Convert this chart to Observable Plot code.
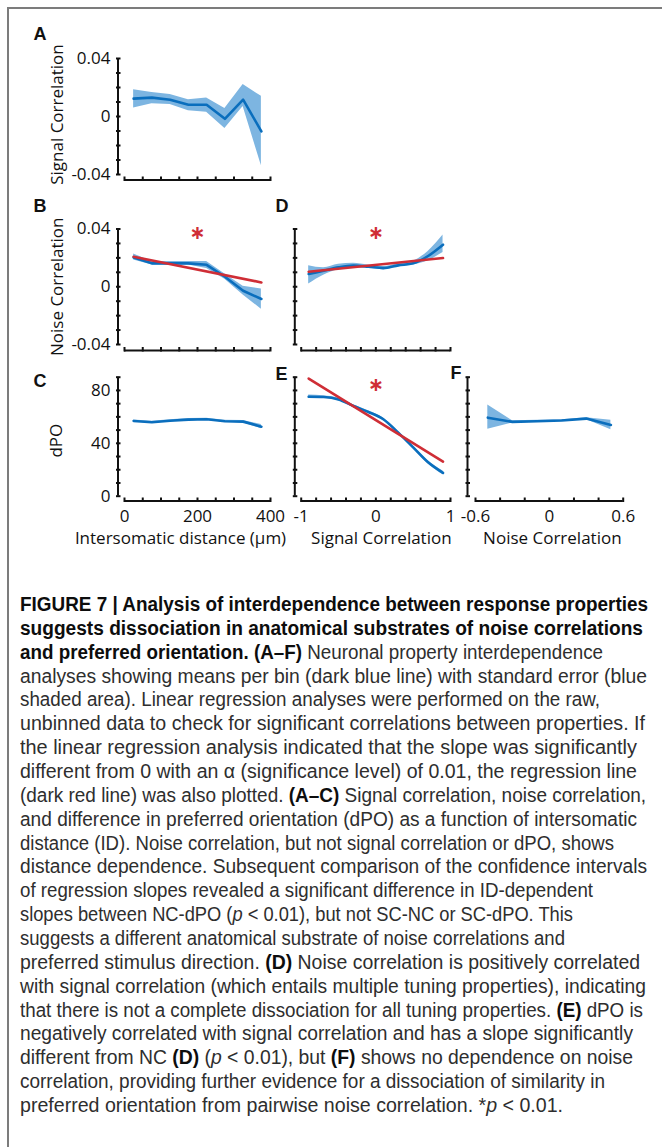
<!DOCTYPE html>
<html><head><meta charset="utf-8">
<script src="https://cdn.jsdelivr.net/npm/d3@7"></script>
<script src="https://cdn.jsdelivr.net/npm/@observablehq/plot@0.6"></script>
<style>
html,body{margin:0;padding:0;background:#fff;}
#page{position:relative;width:662px;height:1147px;overflow:hidden;background:#fff;}
#frame{position:absolute;left:7px;top:7px;width:720px;height:1200px;border-top:2px solid #7c7c7c;border-left:2px solid #7c7c7c;}
.panel{position:absolute;}
#caption{position:absolute;left:20px;top:593px;font-family:"Liberation Sans",Arial,sans-serif;font-size:19.5px;line-height:23.86px;color:#2e2e2e;}
.ln{white-space:nowrap;transform-origin:0 50%;width:max-content;}
.ln b{color:#0d0d0d;}
</style></head>
<body><div id="page"><div id="frame"></div><div id="caption"></div></div>
<script>
// ---------- data ----------
const distBins = [25, 75, 125, 175, 225, 275, 325, 375];
const scMean = [0.0123, 0.0130, 0.0116, 0.0081, 0.0081, -0.0016, 0.0116, -0.0102];
const scLo   = [0.0058, 0.0088, 0.0083, 0.0040, 0.0030, -0.0083, 0.0069, -0.0340];
const scHi   = [0.0185, 0.0166, 0.0152, 0.0116, 0.0127, 0.0055, 0.0220, 0.0139];

const ncMean = [0.0203, 0.0162, 0.0162, 0.0162, 0.0152, 0.0069, -0.0028, -0.0085];
const ncLo   = [0.0185, 0.0150, 0.0150, 0.0150, 0.0127, 0.0052, -0.0058, -0.0155];
const ncHi   = [0.0227, 0.0175, 0.0175, 0.0175, 0.0175, 0.0088, 0.0003, -0.0016];

const dpoMean = [56.9, 55.9, 57.1, 57.9, 58.2, 56.7, 56.4, 52.6];
const dpoLo   = [56.1, 55.1, 56.3, 57.1, 57.4, 55.9, 55.6, 51.0];
const dpoHi   = [57.7, 56.7, 57.9, 58.7, 59.0, 57.5, 57.2, 54.2];

const scBins = [-0.9, -0.7, -0.5, -0.3, -0.1, 0.1, 0.3, 0.5, 0.7, 0.9];
const ncBySc   = [0.0088, 0.0111, 0.0134, 0.0146, 0.0139, 0.0129, 0.0148, 0.0162, 0.0213, 0.0291];
const ncByScLo = [0.0019, 0.0080, 0.0120, 0.0136, 0.0130, 0.0118, 0.0138, 0.0150, 0.0180, 0.0238];
const ncByScHi = [0.0146, 0.0132, 0.0155, 0.0162, 0.0150, 0.0140, 0.0160, 0.0178, 0.0245, 0.0358];

const dpoBySc   = [75.2, 75.0, 73.2, 68.2, 63.7, 58.2, 48.1, 36.9, 25.6, 17.6];
const dpoByScLo = [73.8, 74.0, 72.2, 67.2, 62.7, 57.2, 47.1, 35.9, 24.4, 16.2];
const dpoByScHi = [76.6, 76.0, 74.2, 69.2, 64.7, 59.2, 49.1, 37.9, 26.8, 19.0];

const ncBins = [-0.5, -0.3, -0.1, 0.1, 0.3, 0.5];
const dpoByNc   = [59.4, 56.2, 56.7, 57.2, 58.7, 53.9];
const dpoByNcLo = [50.7, 55.4, 56.0, 56.5, 58.0, 50.3];
const dpoByNcHi = [68.9, 57.0, 57.4, 57.9, 59.4, 57.5];

// regression lines (endpoints)
const regDistX = [25, 375];
const regNcDist = [0.0208, 0.0030];
const regScX = [-0.9, 0.9];
const regNcSc = [0.0104, 0.0199];
const regDpoSc = [89.0, 26.1];

// significance stars
const starB = {x: [200], y: [0.037]};
const starD = {x: [0], y: [0.037]};
const starE = {x: [0], y: [84.5]};

// ticks
const distTicks = [0, 50, 100, 150, 200, 250, 300, 350, 400];
const distLabels = [0, 200, 400];
const scTicks = [-1, -0.8, -0.6, -0.4, -0.2, 0, 0.2, 0.4, 0.6, 0.8, 1];
const scLabels = [-1, 0, 1];
const ncTicks = [-0.6, -0.4, -0.2, 0, 0.2, 0.4, 0.6];
const ncLabels = [-0.6, 0, 0.6];
const corrTicks = [-0.04, -0.03, -0.02, -0.01, 0, 0.01, 0.02, 0.03, 0.04];
const corrLabels = [-0.04, 0, 0.04];
const dpoTicks = [0, 10, 20, 30, 40, 50, 60, 70, 80, 90];
const dpoLabels = [0, 40, 80];

// ---------- drawing ----------
const blue = "#0a6ebd", bandFill = "#7db5e1", red = "#cf2e36", ink = "#111";
const tickFont = "'Open Sans', 'Noto Sans', sans-serif";

function fmt(labels) {
  return d => labels.some(l => Math.abs(l - d) < 1e-9) ? String(+d.toFixed(2)) : "";
}

function panel(o) {
  const [bl, bt, bw, bh] = o.box;
  const [fx0, fx1, fy0, fy1] = o.frame;
  const curve = o.curve || "linear";
  const marks = [
    Plot.areaY(o.x, {x: o.x, y1: o.lo, y2: o.hi, fill: bandFill, curve}),
    Plot.line(o.x, {x: o.x, y: o.mean, stroke: blue, strokeWidth: 2.6, curve})
  ];
  if (o.regX) marks.push(Plot.line(o.regX, {x: o.regX, y: o.regY, stroke: red, strokeWidth: 2.6}));
  if (o.star) marks.push(Plot.text(o.star.x, {x: o.star.x, y: o.star.y, text: () => "\u2217", fill: red, fontSize: 19, fontFamily: "DejaVu Sans", fontWeight: "bold"}));
  // axis lines
  marks.push(Plot.ruleX([o.xDomain[0]], {y1: o.yDomain[0], y2: o.yDomain[1], dx: o.yAxisDx, stroke: ink, strokeWidth: 2}));
  marks.push(Plot.ruleY([o.yDomain[0]], {x1: o.xDomain[0], x2: o.xDomain[1], dy: o.xAxisDy, stroke: ink, strokeWidth: 2}));
  // ticks + labels
  marks.push(Plot.axisY(o.yTicks, {anchor: "left", tickSize: 4.5, dx: o.yAxisDx + 3, tickPadding: 6, tickFormat: fmt(o.yLabels), label: null, stroke: ink, strokeWidth: 2, fontSize: 17, fontFamily: tickFont, fill: ink}));
  marks.push(Plot.axisX(o.xTicks, {anchor: "bottom", tickSize: 4.5, dy: o.xAxisDy - 3, tickPadding: 7.5, tickFormat: fmt(o.xLabels), label: null, stroke: ink, strokeWidth: 2, fontSize: 17, fontFamily: tickFont, fill: ink}));
  // panel letter
  marks.push(Plot.text([o.letter], {frameAnchor: "top-left", dx: o.letterPos[0] - fx0, dy: o.letterPos[1] - fy0, textAnchor: "start", lineAnchor: "bottom", fontWeight: "bold", fontSize: 18, fontFamily: "'Liberation Sans', Arial, sans-serif", fill: ink}));
  if (o.yTitle) marks.push(Plot.text([o.yTitle], {frameAnchor: "left", dx: o.yTitlePos[0] - fx0, dy: o.yTitlePos[1], rotate: -90, textAnchor: "middle", lineAnchor: "middle", fontSize: 17, fontFamily: tickFont, fill: ink}));
  if (o.xTitle) marks.push(Plot.text([o.xTitle], {frameAnchor: "bottom", dx: o.xTitlePos[0], dy: o.xTitlePos[1] - fy1, textAnchor: "middle", lineAnchor: "middle", fontSize: 17, fontFamily: tickFont, fill: ink}));

  const svg = Plot.plot({
    width: bw, height: bh,
    marginLeft: fx0 - bl, marginRight: bl + bw - fx1,
    marginTop: fy0 - bt, marginBottom: bt + bh - fy1,
    x: {domain: o.xDomain},
    y: {domain: o.yDomain},
    style: {background: "none", overflow: "visible", fontFamily: tickFont, fontSize: "17px", color: ink},
    marks
  });
  svg.classList.add("panel");
  svg.style.left = bl + "px";
  svg.style.top = bt + "px";
  svg.style.position = "absolute";
  document.getElementById("page").appendChild(svg);
}

const corrDomain = [-0.04, 0.04], dpoDomain = [0, 90];

panel({letter: "A", box: [15, 15, 270, 175], frame: [124, 270, 58, 174],
  xDomain: [0, 400], yDomain: corrDomain, xTicks: distTicks, xLabels: [], yTicks: corrTicks, yLabels: corrLabels,
  x: distBins, mean: scMean, lo: scLo, hi: scHi, yAxisDx: -6.5, xAxisDy: 5.5,
  letterPos: [33, 39], yTitle: "Signal Correlation", yTitlePos: [57.5, -2]});

panel({letter: "B", box: [15, 190, 270, 175], frame: [124, 270, 228.5, 344],
  xDomain: [0, 400], yDomain: corrDomain, xTicks: distTicks, xLabels: [], yTicks: corrTicks, yLabels: corrLabels,
  x: distBins, mean: ncMean, lo: ncLo, hi: ncHi, regX: regDistX, regY: regNcDist, star: starB, yAxisDx: -6.5, xAxisDy: 6,
  letterPos: [33, 211.5], yTitle: "Noise Correlation", yTitlePos: [57.5, 0]});

panel({letter: "C", box: [15, 365, 270, 190], frame: [124, 270, 376.7, 495.7],
  xDomain: [0, 400], yDomain: dpoDomain, xTicks: distTicks, xLabels: distLabels, yTicks: dpoTicks, yLabels: dpoLabels,
  x: distBins, mean: dpoMean, lo: dpoLo, hi: dpoHi, yAxisDx: -6.5, xAxisDy: 4.8,
  letterPos: [33, 386.5], yTitle: "dPO", yTitlePos: [56.5, 4],
  xTitle: "Intersomatic distance (\u00b5m)", xTitlePos: [-17, 538.5]});

panel({letter: "D", box: [272, 190, 188, 175], frame: [300.7, 450, 228.5, 344],
  xDomain: [-1, 1], yDomain: corrDomain, xTicks: scTicks, xLabels: [], yTicks: corrTicks, yLabels: [],
  x: scBins, mean: ncBySc, lo: ncByScLo, hi: ncByScHi, regX: regScX, regY: regNcSc, star: starD, curve: "monotone-x",
  yAxisDx: -6.4, xAxisDy: 6, letterPos: [275, 211.5]});

panel({letter: "E", box: [272, 365, 188, 190], frame: [300.7, 450, 376.7, 495.7],
  xDomain: [-1, 1], yDomain: dpoDomain, xTicks: scTicks, xLabels: scLabels, yTicks: dpoTicks, yLabels: [],
  x: scBins, mean: dpoBySc, lo: dpoByScLo, hi: dpoByScHi, regX: regScX, regY: regDpoSc, star: starE, curve: "monotone-x",
  yAxisDx: -6.4, xAxisDy: 4.8, letterPos: [275, 379.3],
  xTitle: "Signal Correlation", xTitlePos: [5.5, 538.5]});

panel({letter: "F", box: [445, 365, 210, 190], frame: [475, 622.7, 376.7, 495.7],
  xDomain: [-0.6, 0.6], yDomain: dpoDomain, xTicks: ncTicks, xLabels: ncLabels, yTicks: dpoTicks, yLabels: [],
  x: ncBins, mean: dpoByNc, lo: dpoByNcLo, hi: dpoByNcHi,
  yAxisDx: -8, xAxisDy: 4.8, letterPos: [450, 378.3],
  xTitle: "Noise Correlation", xTitlePos: [3, 538.5]});

// ---------- caption ----------
const captionLines = [
  '<b>FIGURE 7 | Analysis of interdependence between response properties</b>',
  '<b>suggests dissociation in anatomical substrates of noise correlations</b>',
  '<b>and preferred orientation. (A\u2013F)</b> Neuronal property interdependence',
  'analyses showing means per bin (dark blue line) with standard error (blue',
  'shaded area). Linear regression analyses were performed on the raw,',
  'unbinned data to check for significant correlations between properties. If',
  'the linear regression analysis indicated that the slope was significantly',
  'different from 0 with an \u03b1 (significance level) of 0.01, the regression line',
  '(dark red line) was also plotted. <b>(A\u2013C)</b> Signal correlation, noise correlation,',
  'and difference in preferred orientation (dPO) as a function of intersomatic',
  'distance (ID). Noise correlation, but not signal correlation or dPO, shows',
  'distance dependence. Subsequent comparison of the confidence intervals',
  'of regression slopes revealed a significant difference in ID-dependent',
  'slopes between NC-dPO (<i>p</i> &lt; 0.01), but not SC-NC or SC-dPO. This',
  'suggests a different anatomical substrate of noise correlations and',
  'preferred stimulus direction. <b>(D)</b> Noise correlation is positively correlated',
  'with signal correlation (which entails multiple tuning properties), indicating',
  'that there is not a complete dissociation for all tuning properties. <b>(E)</b> dPO is',
  'negatively correlated with signal correlation and has a slope significantly',
  'different from NC <b>(D)</b> (<i>p</i> &lt; 0.01), but <b>(F)</b> shows no dependence on noise',
  'correlation, providing further evidence for a dissociation of similarity in',
  'preferred orientation from pairwise noise correlation. *<i>p</i> &lt; 0.01.'
];
const lineEnds = [648, 643, 603, 647, 600, 645, 637, 637, 646, 637, 614, 647, 593, 573, 565, 640, 646, 643, 633, 633, 605, 563];
const cap = document.getElementById("caption");
const lineDivs = captionLines.map(html => {
  const d = document.createElement("div");
  d.className = "ln";
  d.innerHTML = html;
  cap.appendChild(d);
  return d;
});
function fit() {
  lineDivs.forEach((d, i) => {
    d.style.transform = "none";
    const w = d.getBoundingClientRect().width;
    const k = (lineEnds[i] - 20) / w;
    d.style.transform = `scaleX(${k})`;
  });
}
fit();
if (document.fonts && document.fonts.ready) document.fonts.ready.then(fit);
</script>
</body></html>
